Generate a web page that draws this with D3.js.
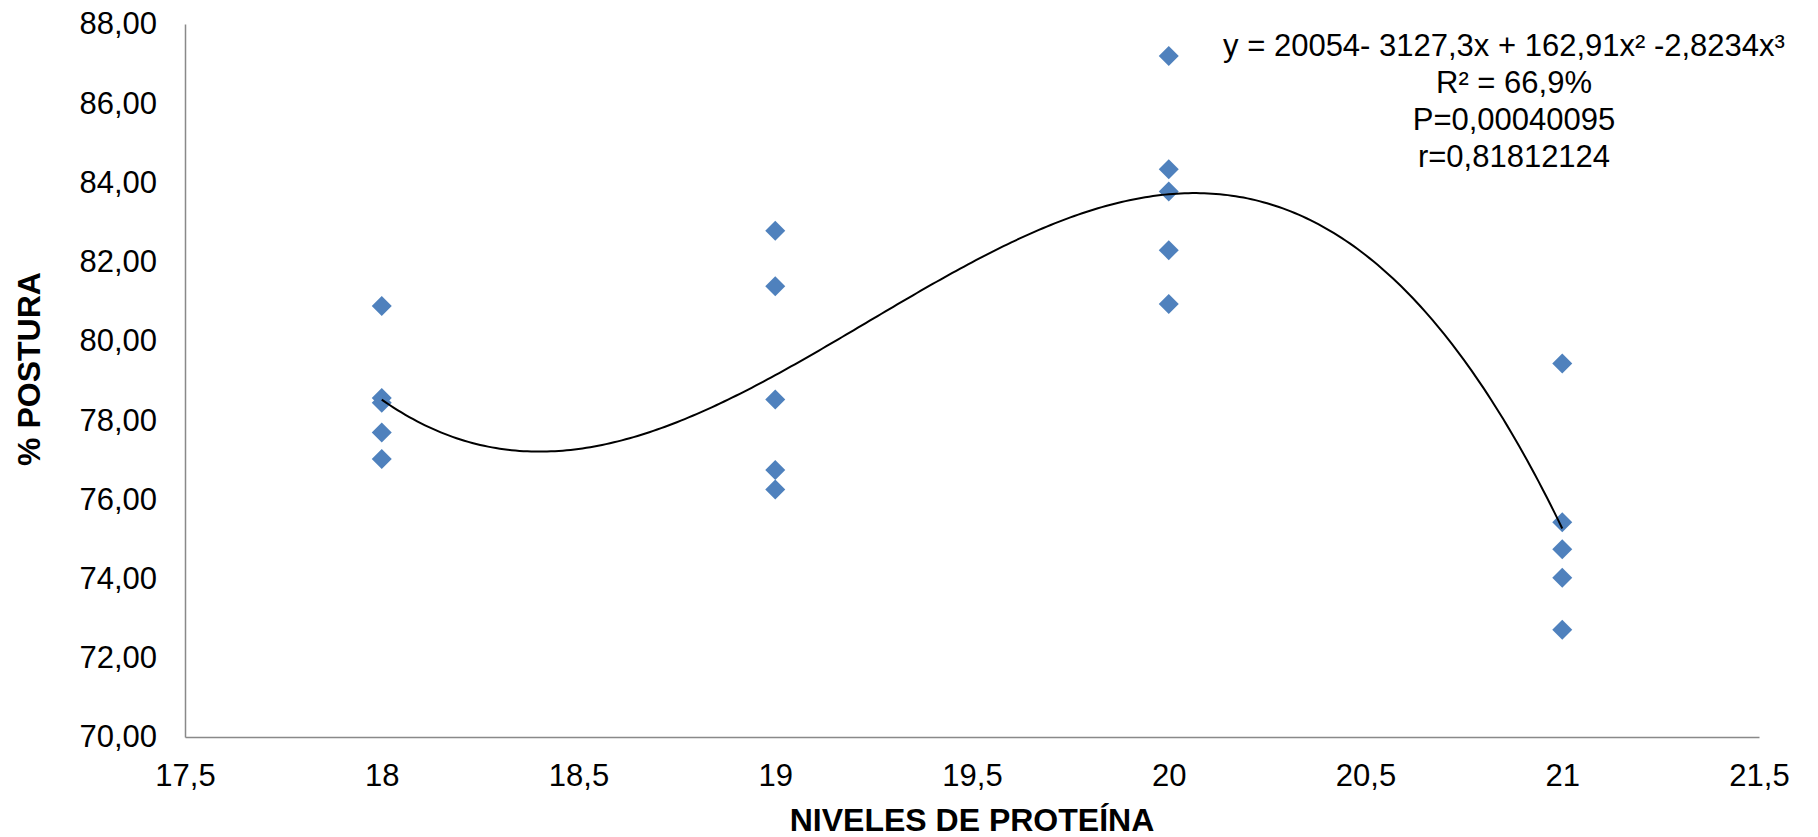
<!DOCTYPE html>
<html>
<head>
<meta charset="utf-8">
<script src="https://cdn.jsdelivr.net/npm/d3@7"></script>
<style>
  html, body { margin: 0; padding: 0; background: #fff; }
  svg { display: block; font-family: "Liberation Sans", Arial, sans-serif; }
</style>
</head>
<body>
<svg id="chart" width="1818" height="837"></svg>
<script>
// protein levels and the 5 replicate values of % postura read for each
var niveles = [18, 19, 20, 21]
var postura18 = [80.88, 78.56, 78.44, 77.69, 77.02]
var postura19 = [82.78, 81.38, 78.52, 76.74, 76.25]
var postura20 = [87.19, 84.33, 83.77, 82.29, 80.93]
var postura21 = [79.43, 75.42, 74.74, 74.02, 72.71]

var xTicks = [17.5, 18, 18.5, 19, 19.5, 20, 20.5, 21, 21.5]
var yTicks = [70, 72, 74, 76, 78, 80, 82, 84, 86, 88]

var eqLines = [
  'y = 20054- 3127,3x + 162,91x² -2,8234x³',
  'R² = 66,9%',
  'P=0,00040095',
  'r=0,81812124'
]

var points = []
;[postura18, postura19, postura20, postura21].forEach(function (vals, i) {
  vals.forEach(function (v) { points.push({x: niveles[i], y: v}) })
})

var margin = {top: 24, right: 59, bottom: 100, left: 185}
var W = 1818, H = 837
var innerW = W - margin.left - margin.right
var innerH = H - margin.top - margin.bottom

var svg = d3.select('#chart')
var g = svg.append('g').attr('transform', `translate(${margin.left},${margin.top})`)

var x = d3.scaleLinear().domain([17.5, 21.5]).range([0, innerW])
var y = d3.scaleLinear().domain([70, 88]).range([innerH, 0])

var fmtX = function (d) { return String(d).replace('.', ',') }
var fmtY = function (d) { return d.toFixed(2).replace('.', ',') }

// axes (Excel style: grey line, no ticks)
var yAxis = g.append('g')
  .call(d3.axisLeft(y).tickValues(yTicks).tickSize(0).tickPadding(28).tickFormat(fmtY))
var xAxis = g.append('g')
  .attr('transform', `translate(0,${innerH})`)
  .call(d3.axisBottom(x).tickValues(xTicks).tickSize(0).tickPadding(27).tickFormat(fmtX))

;[yAxis, xAxis].forEach(function (a) {
  a.select('.domain').attr('stroke', '#898989').attr('stroke-width', 1.5)
  a.selectAll('text')
    .attr('font-family', '"Liberation Sans", Arial, sans-serif')
    .attr('font-size', 31)
    .attr('fill', '#000')
})

// cubic least squares trend line, fitted from the points
function fitCubic (pts) {
  var c = 19.5
  var n = 4
  var A = [], b = []
  for (var r = 0; r < n; r++) { A.push([0, 0, 0, 0]); b.push(0) }
  pts.forEach(function (p) {
    var t = p.x - c
    var pw = [1, t, t * t, t * t * t]
    for (var i = 0; i < n; i++) {
      b[i] += pw[i] * p.y
      for (var j = 0; j < n; j++) A[i][j] += pw[i] * pw[j]
    }
  })
  // gaussian elimination
  for (var k = 0; k < n; k++) {
    var piv = k
    for (var r2 = k + 1; r2 < n; r2++) if (Math.abs(A[r2][k]) > Math.abs(A[piv][k])) piv = r2
    var tmp = A[k]; A[k] = A[piv]; A[piv] = tmp
    var tb = b[k]; b[k] = b[piv]; b[piv] = tb
    for (var r3 = k + 1; r3 < n; r3++) {
      var f = A[r3][k] / A[k][k]
      for (var j2 = k; j2 < n; j2++) A[r3][j2] -= f * A[k][j2]
      b[r3] -= f * b[k]
    }
  }
  var coef = [0, 0, 0, 0]
  for (var k2 = n - 1; k2 >= 0; k2--) {
    var s = b[k2]
    for (var j3 = k2 + 1; j3 < n; j3++) s -= A[k2][j3] * coef[j3]
    coef[k2] = s / A[k2][k2]
  }
  return function (xv) {
    var t = xv - c
    return coef[0] + coef[1] * t + coef[2] * t * t + coef[3] * t * t * t
  }
}

var trend = fitCubic(points)
var xs = d3.range(0, 301).map(function (i) { return 18 + i * 0.01 })

var line = d3.line()
  .x(function (d) { return x(d) })
  .y(function (d) { return y(trend(d)) })

// markers
var diamond = d3.symbol().type(d3.symbolSquare).size(200)
g.append('g').selectAll('path')
  .data(points)
  .enter()
  .append('path')
  .attr('d', diamond)
  .attr('transform', function (d) { return `translate(${x(d.x)},${y(d.y)}) rotate(45)` })
  .attr('fill', '#4f81bd')

g.append('path')
  .datum(xs)
  .attr('d', line)
  .attr('fill', 'none')
  .attr('stroke', '#000')
  .attr('stroke-width', 2)

// axis titles
svg.append('text')
  .attr('x', margin.left + innerW / 2)
  .attr('y', 831)
  .attr('text-anchor', 'middle')
  .attr('font-size', 32)
  .attr('font-weight', 'bold')
  .text('NIVELES DE PROTEÍNA')

svg.append('text')
  .attr('transform', 'translate(40,369) rotate(-90)')
  .attr('text-anchor', 'middle')
  .attr('font-size', 32)
  .attr('font-weight', 'bold')
  .text('% POSTURA')

// equation block
svg.append('g').selectAll('text')
  .data(eqLines)
  .enter()
  .append('text')
  .attr('x', function (d, i) { return i === 0 ? 1504 : 1514 })
  .attr('y', function (d, i) { return 56 + i * 37 })
  .attr('text-anchor', 'middle')
  .attr('font-size', 31)
  .text(function (d) { return d })
</script>
</body>
</html>
